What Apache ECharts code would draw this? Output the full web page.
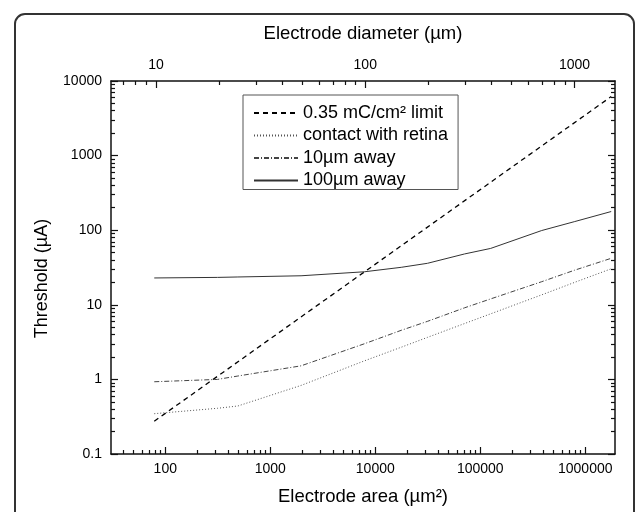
<!DOCTYPE html>
<html>
<head>
<meta charset="utf-8">
<script src="https://cdn.jsdelivr.net/npm/echarts@6/dist/echarts.min.js"></script>
<style>
  html, body { margin: 0; padding: 0; background: #fff; }
  #chart { width: 636px; height: 512px; }
</style>
</head>
<body>
<div id="chart"></div>
<script>
const FONT = '"Liberation Sans", Arial, sans-serif';

// electrode sizes used for the model curves (diameter µm -> area µm²)
const diameterUm = [10, 20, 25, 50, 100, 150, 200, 300, 400, 700, 1000, 1500];
const areaUm2 = [78.5, 314, 491, 1963, 7854, 17671, 31416, 70686, 125664, 384845, 785398, 1767146];

// threshold (µA)
const contactRetina = [0.347, 0.41, 0.44, 0.83, 1.77, 2.7, 3.66, 5.6, 7.57, 13.6, 19.9, 30.4];
const away10 = [0.93, 1.0, 1.11, 1.52, 3.0, 4.55, 6.0, 9.1, 12, 20.4, 29, 42];
const away100 = [22.9, 23.3, 23.6, 24.5, 27.7, 31.8, 36, 48, 57, 99, 130, 178];

// 0.35 mC/cm² charge density limit (straight line, end points)
const limitArea = [78.5, 1767146];
const limitThreshold = [0.275, 6185];

// axes
const areaTicks = [100, 1000, 10000, 100000, 1000000];
const diameterTicks = [10, 100, 1000];
const thresholdTicks = [0.1, 1, 10, 100, 1000, 10000];
const areaRange = [30.4, 1.92e6];
const diameterRange = [6.1, 1560];
const thresholdRange = [0.1, 10000];

const seriesNames = ['0.35 mC/cm² limit', 'contact with retina', '10µm away', '100µm away'];

// 2..9 times each decade, inside the range
function minorTicks(range) {
  const out = [];
  const e0 = Math.floor(Math.log10(range[0]));
  const e1 = Math.ceil(Math.log10(range[1]));
  for (let e = e0; e <= e1; e++) {
    for (let k = 2; k <= 9; k++) {
      const v = Number((k * Math.pow(10, e)).toPrecision(3));
      if (v > range[0] && v < range[1]) out.push(v);
    }
  }
  return out;
}

const pairs = (xs, ys) => xs.map((x, i) => [x, ys[i]]);

const axisColor = '#111';
const labelStyle = { fontFamily: FONT, fontSize: 14, color: '#000' };
const nameStyle = { fontFamily: FONT, fontSize: 18.5, color: '#000' };

// one log axis; major=true gives line + labels, otherwise only short ticks
function logAxis(gridIndex, position, range, ticks, major, extra) {
  return Object.assign({
    gridIndex: gridIndex,
    type: 'log',
    logBase: 10,
    position: position,
    min: range[0],
    max: range[1],
    axisLine: { show: major, onZero: false, lineStyle: { color: axisColor, width: 1.5 } },
    axisTick: {
      show: true, inside: true, length: major ? 7 : 4,
      customValues: ticks,
      lineStyle: { color: axisColor, width: 1.2 }
    },
    axisLabel: { show: false },
    splitLine: { show: false },
    minorTick: { show: false },
    minorSplitLine: { show: false }
  }, extra || {});
}

function labels(values, margin) {
  return Object.assign({
    show: true,
    customValues: values,
    margin: margin,
    formatter: (v) => String(v)
  }, labelStyle);
}

const chart = echarts.init(document.getElementById('chart'), null, { renderer: 'canvas' });

const gridRect = { left: 111, right: 21, top: 81, bottom: 58, containLabel: false };

const option = {
  animation: false,
  backgroundColor: '#fff',
  grid: [Object.assign({}, gridRect), Object.assign({}, gridRect)],
  xAxis: [
    logAxis(0, 'bottom', areaRange, areaTicks, true, {
      name: 'Electrode area (µm²)', nameLocation: 'middle', nameGap: 33, nameTextStyle: nameStyle,
      axisLabel: labels(areaTicks, 8)
    }),
    logAxis(0, 'top', diameterRange, diameterTicks, true, {
      name: 'Electrode diameter (µm)', nameLocation: 'middle', nameGap: 38, nameTextStyle: nameStyle,
      axisLabel: labels(diameterTicks, 9)
    }),
    logAxis(1, 'bottom', areaRange, minorTicks(areaRange), false),
    logAxis(1, 'top', diameterRange, minorTicks(diameterRange), false)
  ],
  yAxis: [
    logAxis(0, 'left', thresholdRange, thresholdTicks, true, {
      name: 'Threshold (µA)', nameLocation: 'middle', nameGap: 60,
      nameTextStyle: Object.assign({ padding: [0, 22, 0, 0] }, nameStyle, { fontSize: 18 }),
      axisLabel: labels(thresholdTicks, 9)
    }),
    logAxis(0, 'right', thresholdRange, thresholdTicks, true),
    logAxis(1, 'left', thresholdRange, minorTicks(thresholdRange), false),
    logAxis(1, 'right', thresholdRange, minorTicks(thresholdRange), false)
  ],
  legend: {
    orient: 'vertical',
    left: 243,
    top: 95,
    padding: [9, 10, 0, 10],
    itemWidth: 44,
    itemHeight: 14,
    itemGap: 4.5,
    backgroundColor: '#fff',
    borderColor: '#555',
    borderWidth: 1,
    selectedMode: false,
    itemStyle: { opacity: 0 },
    textStyle: { fontFamily: FONT, fontSize: 18, color: '#000' },
    data: seriesNames
  },
  series: [
    {
      name: seriesNames[0], type: 'line', xAxisIndex: 0, yAxisIndex: 0,
      symbol: 'none', silent: true,
      lineStyle: { color: '#000', width: 1.3, type: [5, 4] },
      data: pairs(limitArea, limitThreshold)
    },
    {
      name: seriesNames[1], type: 'line', xAxisIndex: 0, yAxisIndex: 0,
      symbol: 'none', silent: true,
      lineStyle: { color: '#555', width: 1, type: [1, 2] },
      data: pairs(areaUm2, contactRetina)
    },
    {
      name: seriesNames[2], type: 'line', xAxisIndex: 0, yAxisIndex: 0,
      symbol: 'none', silent: true,
      lineStyle: { color: '#444', width: 1, type: [5, 2, 1, 2] },
      data: pairs(areaUm2, away10)
    },
    {
      name: seriesNames[3], type: 'line', xAxisIndex: 0, yAxisIndex: 0,
      symbol: 'none', silent: true,
      lineStyle: { color: '#333', width: 1 },
      data: pairs(areaUm2, away100)
    }
  ],
  graphic: [
    {
      type: 'rect', silent: true, z: -1,
      shape: { x: 15, y: 14, width: 619, height: 540, r: 10 },
      style: { fill: null, stroke: '#333', lineWidth: 2 }
    }
  ]
};

chart.setOption(option);
</script>
</body>
</html>
